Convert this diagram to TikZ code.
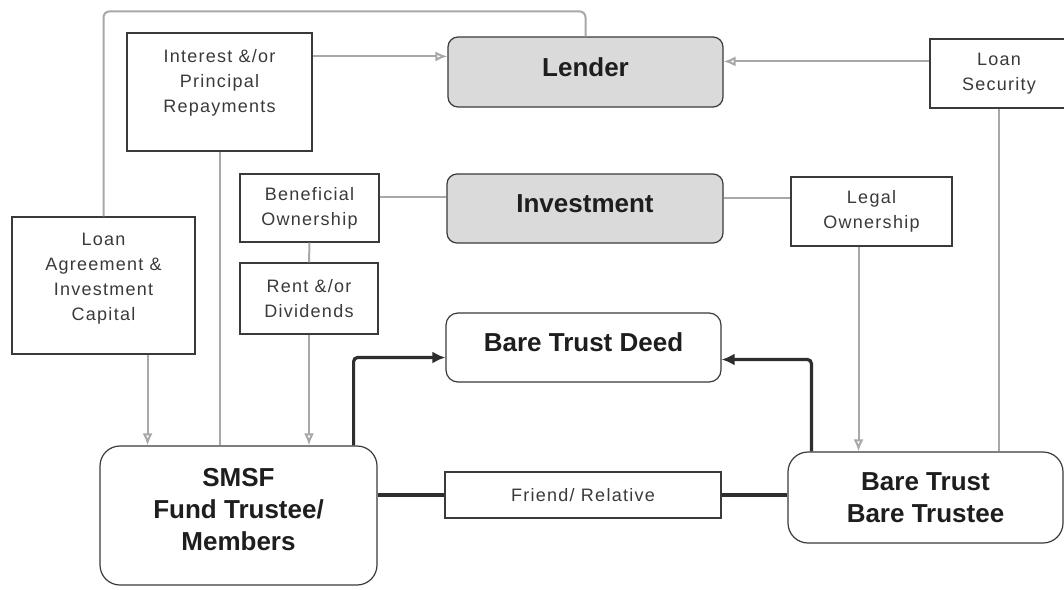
\documentclass[tikz,border=0pt]{standalone}
\usepackage{fontspec}
\setmainfont{Liberation Sans}
\newfontfamily\regf[LetterSpace=7]{Liberation Sans}
\usetikzlibrary{arrows.meta,calc}
\definecolor{edge}{HTML}{3A3A3A}
\definecolor{conn}{HTML}{A8A8A8}
\definecolor{thickc}{HTML}{2E2E2E}
\definecolor{fillg}{HTML}{DADADA}
\definecolor{txtr}{HTML}{3A3A3A}
\definecolor{txtb}{HTML}{1E1E1E}
\tikzset{
  plainbox/.style={draw=edge, line width=1.2pt, fill=white, align=center,
    font=\regf\fontsize{18}{25}\selectfont, text=txtr, inner sep=0pt},
  titlebox/.style={draw=edge, line width=1.2pt, fill=white, align=center,
    font=\bfseries\fontsize{26}{32}\selectfont, text=txtb, inner sep=0pt},
  graybox/.style={titlebox, fill=fillg},
  gline/.style={draw=conn, line width=2pt},
  garrow/.style={gline, -{Latex[open, length=12pt, width=10pt]}},
  tline/.style={draw=thickc, line width=3.2pt},
  tarrow/.style={tline, -{Latex[length=13pt, width=12pt]}},
}
\begin{document}
\begin{tikzpicture}[x=1pt, y=-1pt]
\useasboundingbox (0,0) rectangle (1064,589);
\fill[white] (0,0) rectangle (1064,589);

% nodes
\node[graybox, rounded corners=10pt, minimum width=275pt, minimum height=70pt, text depth=10pt] (lender) at (585.5,72) {Lender};
\node[graybox, rounded corners=10pt, minimum width=276pt, minimum height=69pt, text depth=10pt] (invest) at (585,208.5) {Investment};
\node[titlebox, rounded corners=12pt, minimum width=275pt, minimum height=69pt, text depth=10pt] (deed) at (583.5,347.5) {Bare Trust Deed};
\node[titlebox, rounded corners=20pt, minimum width=277pt, minimum height=139pt, text depth=13pt] (smsf) at (238.5,515.5) {SMSF\\Fund Trustee/\\Members};
\node[titlebox, rounded corners=20pt, minimum width=275pt, minimum height=91pt] (bare) at (925.5,497.5) {Bare Trust\\Bare Trustee};

\node[plainbox, minimum width=185pt, minimum height=118pt, text depth=23pt] (interest) at (219.5,92) {Interest \&/or\\Principal\\Repayments};
\node[plainbox, minimum width=138pt, minimum height=69pt] (loansec) at (999,73.5) {Loan\\Security};
\node[plainbox, minimum width=139pt, minimum height=68pt] (benef) at (309.5,208) {Beneficial\\Ownership};
\node[plainbox, minimum width=161pt, minimum height=69pt] (legal) at (871.5,211.5) {Legal\\Ownership};
\node[plainbox, minimum width=183pt, minimum height=137pt, text depth=17pt] (loanagr) at (103.5,285.5) {Loan\\Agreement \&\\Investment\\Capital};
\node[plainbox, minimum width=138pt, minimum height=71pt] (rent) at (309,298.5) {Rent \&/or\\Dividends};
\node[plainbox, minimum width=276pt, minimum height=46pt] (friend) at (583,495) {Friend/ Relative};

% helper coordinates on node borders
\coordinate (a1) at ($(interest.north east)+(0,24)$);
\coordinate (a2) at ($(loansec.north west)+(0,23)$);
\coordinate (a3) at ($(benef.north east)+(0,24)$);
\coordinate (a4) at ($(invest.north east)+(0,25)$);
\coordinate (a5) at ($(loanagr.south east)+(-48,0)$);
\coordinate (a6) at ($(legal.south)+(-13,0)$);
\coordinate (c1) at ($(lender.north)+(0,-25)$);
\coordinate (b1) at ($(smsf.north east)+(-24,0)$);
\coordinate (b2) at ($(bare.north west)+(24,0)$);

% gray connectors
\draw[garrow] (a1) -- (a1 -| lender.west);
\draw[garrow] (a2) -- (a2 -| lender.east);
\draw[gline] (a3) -- (a3 -| invest.west);
\draw[gline] (a4) -- (a4 -| legal.west);
\draw[gline] (benef.south) -- (rent.north);
\draw[garrow] (rent.south) -- (rent.south |- smsf.north);
\draw[garrow] (a5) -- (a5 |- smsf.north);
\draw[gline] (interest.south) -- (interest.south |- smsf.north);
\draw[garrow] (a6) -- (a6 |- bare.north);
\draw[gline] (loansec.south) -- (loansec.south |- bare.north);
\draw[gline, rounded corners=6pt] (loanagr.north) |- (c1) -- (lender.north);

% thick connectors
\draw[tarrow, rounded corners=4pt] (b1) |- ($(deed.west)+(0,10)$);
\draw[tarrow, rounded corners=4pt] (b2) |- ($(deed.east)+(0,12)$);
\draw[tline] (friend.west -| smsf.east) -- (friend.west);
\draw[tline] (friend.east) -- (friend.east -| bare.west);
\end{tikzpicture}
\end{document}
